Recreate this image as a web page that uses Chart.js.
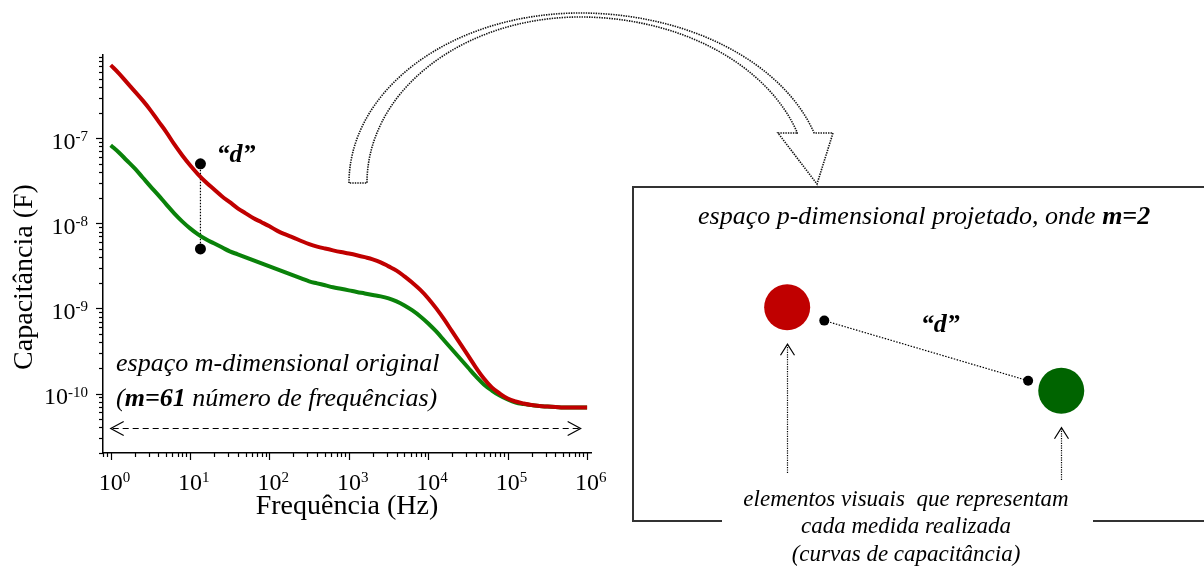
<!DOCTYPE html>
<html>
<head>
<meta charset="utf-8">
<script src="https://cdn.jsdelivr.net/npm/chart.js@4/dist/chart.umd.min.js"></script>
<style>
  html, body { margin: 0; padding: 0; background: #fff; }
  #wrap { position: relative; width: 1204px; height: 572px; overflow: hidden; background: #fff; }
  #wrap canvas { position: absolute; left: 0; top: 0; }
</style>
</head>
<body>
<div id="wrap">
  <canvas id="curves" width="1204" height="572"></canvas>
  <canvas id="projection" width="1204" height="572"></canvas>
</div>
<script>
// 61 measured frequencies (Hz), ten per decade
const frequencies = [
  1, 1.259, 1.585, 1.995, 2.512, 3.162, 3.981, 5.012, 6.310, 7.943,
  10, 12.59, 15.85, 19.95, 25.12, 31.62, 39.81, 50.12, 63.10, 79.43,
  100, 125.9, 158.5, 199.5, 251.2, 316.2, 398.1, 501.2, 631.0, 794.3,
  1000, 1259, 1585, 1995, 2512, 3162, 3981, 5012, 6310, 7943,
  10000, 12590, 15850, 19950, 25120, 31620, 39810, 50120, 63100, 79430,
  100000, 125900, 158500, 199500, 251200, 316200, 398100, 501200, 631000, 794300,
  1000000];

// Capacitance of the first sample (F)
const capacitanceRed = [
  7.22e-7, 5.82e-7, 4.56e-7, 3.57e-7, 2.80e-7, 2.14e-7, 1.585e-7, 1.18e-7, 8.50e-8, 6.31e-8,
  4.81e-8, 3.77e-8, 3.04e-8, 2.51e-8, 2.08e-8, 1.77e-8, 1.50e-8, 1.31e-8, 1.145e-8, 1.03e-8,
  9.22e-9, 8.15e-9, 7.40e-9, 6.80e-9, 6.20e-9, 5.70e-9, 5.33e-9, 5.05e-9, 4.81e-9, 4.60e-9,
  4.42e-9, 4.22e-9, 4.00e-9, 3.77e-9, 3.48e-9, 3.12e-9, 2.78e-9, 2.38e-9, 2.00e-9, 1.65e-9,
  1.31e-9, 1.0e-9, 7.42e-10, 5.36e-10, 3.88e-10, 2.80e-10, 2.02e-10, 1.50e-10, 1.18e-10, 1.0e-10,
  8.73e-11, 8.05e-11, 7.63e-11, 7.32e-11, 7.13e-11, 7.03e-11, 6.94e-11, 6.84e-11, 6.84e-11, 6.84e-11,
  6.84e-11];

// Capacitance of the second sample (F)
const capacitanceGreen = [
  8.27e-8, 6.84e-8, 5.51e-8, 4.44e-8, 3.48e-8, 2.72e-8, 2.14e-8, 1.67e-8, 1.31e-8, 1.055e-8,
  8.73e-9, 7.42e-9, 6.48e-9, 5.82e-9, 5.22e-9, 4.68e-9, 4.32e-9, 3.98e-9, 3.67e-9, 3.38e-9,
  3.12e-9, 2.88e-9, 2.65e-9, 2.44e-9, 2.25e-9, 2.08e-9, 1.97e-9, 1.87e-9, 1.77e-9, 1.70e-9,
  1.63e-9, 1.56e-9, 1.50e-9, 1.44e-9, 1.385e-9, 1.31e-9, 1.21e-9, 1.085e-9, 9.47e-10, 8.05e-10,
  6.66e-10, 5.36e-10, 4.20e-10, 3.29e-10, 2.58e-10, 2.02e-10, 1.585e-10, 1.28e-10, 1.085e-10, 9.47e-11,
  8.50e-11, 7.83e-11, 7.52e-11, 7.32e-11, 7.13e-11, 7.03e-11, 6.94e-11, 6.84e-11, 6.84e-11, 6.84e-11,
  6.84e-11];

// Distance "d" marked between the two curves at one frequency
const distanceFrequency = 13.5;
const distanceCapacitance = [5e-8, 5e-9];

// Span arrow covering the measured frequency range
const spanFrequency = [1, 830000];
const spanCapacitance = 3.9e-11;

// Axis tick exponents
const frequencyExponents = [0, 1, 2, 3, 4, 5, 6];
const capacitanceExponents = [-10, -9, -8, -7];

// Projected 2-D space
const projectedX = [2.7, 7.5];
const projectedY = [6.4, 3.9];
const projectedColors = ['#c00000', '#006400'];
const distanceX = [3.35, 6.92];
const distanceY = [6.0, 4.2];

const SERIF = '"Liberation Serif", "Times New Roman", serif';
const RED = '#c00000';
const GREEN = '#0a820a';

// Draws consecutive text runs with their own fonts, starting at x
function drawRuns(ctx, runs, x, y) {
  ctx.textAlign = 'left';
  let cx = x;
  for (const r of runs) {
    ctx.font = r.font;
    ctx.fillText(r.text, cx, y);
    cx += ctx.measureText(r.text).width;
  }
  return cx - x;
}

const BASE_FONT = '24px ' + SERIF;
const SUP_FONT = '15px ' + SERIF;
const ITALIC = 'italic 26px ' + SERIF;
const BOLD_ITALIC = 'italic bold 26px ' + SERIF;

const axisDecor = {
  id: 'axisDecor',
  afterDraw(chart) {
    const { ctx, chartArea: a, scales: { x, y } } = chart;
    ctx.save();
    ctx.fillStyle = '#000';
    ctx.strokeStyle = '#000';
    ctx.lineWidth = 1.2;
    ctx.setLineDash([]);

    // tick marks on the logarithmic axes (major at powers of ten)
    for (let n = -1; n <= 6; n++) {
      for (let k = 1; k <= 9; k++) {
        const v = k * Math.pow(10, n);
        if (v < x.min || v > x.max) continue;
        const px = Math.round(x.getPixelForValue(v)) + 0.5;
        const len = k === 1 ? 7 : 4;
        ctx.beginPath(); ctx.moveTo(px, a.bottom); ctx.lineTo(px, a.bottom + len); ctx.stroke();
      }
    }
    for (let n = -11; n <= -6; n++) {
      for (let k = 1; k <= 9; k++) {
        const v = k * Math.pow(10, n);
        if (v < y.min || v > y.max) continue;
        const py = Math.round(y.getPixelForValue(v)) + 0.5;
        const len = k === 1 ? 7 : 4;
        ctx.beginPath(); ctx.moveTo(a.left, py); ctx.lineTo(a.left - len, py); ctx.stroke();
      }
    }

    // tick labels 10^n
    ctx.textBaseline = 'alphabetic';
    for (const e of frequencyExponents) {
      const px = x.getPixelForValue(Math.pow(10, e));
      ctx.font = BASE_FONT; ctx.textAlign = 'center';
      const bw = ctx.measureText('10').width;
      ctx.fillText('10', px, a.bottom + 37);
      ctx.font = SUP_FONT; ctx.textAlign = 'left';
      ctx.fillText(String(e), px + bw / 2, a.bottom + 29);
    }
    for (const e of capacitanceExponents) {
      const py = y.getPixelForValue(Math.pow(10, e));
      ctx.font = BASE_FONT; const bw = ctx.measureText('10').width;
      ctx.font = SUP_FONT; const sw = ctx.measureText(String(e)).width;
      const x0 = a.left - 15 - bw - sw;
      ctx.textAlign = 'left';
      ctx.font = BASE_FONT; ctx.fillText('10', x0, py + 10.5);
      ctx.font = SUP_FONT; ctx.fillText(String(e), x0 + bw, py + 3);
    }

    // axis titles
    ctx.font = '28px ' + SERIF;
    ctx.textAlign = 'center';
    ctx.fillText('Frequência (Hz)', (a.left + a.right) / 2, 514);
    ctx.save();
    ctx.translate(32, 277);
    ctx.rotate(-Math.PI / 2);
    ctx.fillText('Capacitância (F)', 0, 0);
    ctx.restore();

    // "d" label beside the distance marker
    const dx = x.getPixelForValue(distanceFrequency);
    const dy = y.getPixelForValue(distanceCapacitance[0]);
    ctx.font = BOLD_ITALIC;
    ctx.textAlign = 'left';
    ctx.fillText('\u201Cd\u201D', dx + 16, dy - 2);

    // description of the original space
    drawRuns(ctx, [{ text: 'espaço m-dimensional original', font: ITALIC }], 116, 371);
    drawRuns(ctx, [{ text: '(', font: ITALIC }, { text: 'm=61', font: BOLD_ITALIC },
      { text: ' número de frequências)', font: ITALIC }], 116, 406);

    // double-headed dashed span arrow
    const sy = Math.round(y.getPixelForValue(spanCapacitance)) + 0.5;
    const sx0 = x.getPixelForValue(spanFrequency[0]);
    const sx1 = x.getPixelForValue(spanFrequency[1]);
    ctx.lineWidth = 1.2;
    ctx.setLineDash([6, 4]);
    ctx.beginPath(); ctx.moveTo(sx0 + 2, sy); ctx.lineTo(sx1 - 2, sy); ctx.stroke();
    ctx.setLineDash([]);
    ctx.beginPath();
    ctx.moveTo(sx0 + 13, sy - 7); ctx.lineTo(sx0, sy); ctx.lineTo(sx0 + 13, sy + 7);
    ctx.moveTo(sx1 - 13, sy - 7); ctx.lineTo(sx1, sy); ctx.lineTo(sx1 - 13, sy + 7);
    ctx.stroke();

    // hollow curved arrow leading to the projected space
    const cx = 580, cy = 183;
    ctx.beginPath();
    ctx.moveTo(349, cy);
    ctx.ellipse(cx, cy, 231, 170, 0, Math.PI, 1.5 * Math.PI, false);
    ctx.ellipse(cx, cy, 245, 170, 0, -0.5 * Math.PI, -0.2985, false);
    ctx.lineTo(833, 133);
    ctx.lineTo(817, 184);
    ctx.lineTo(778, 133);
    ctx.lineTo(798, 133);
    ctx.ellipse(cx, cy, 228, 166, 0, -0.3058, -0.5 * Math.PI, true);
    ctx.ellipse(cx, cy, 213, 166, 0, -0.5 * Math.PI, -Math.PI, true);
    ctx.closePath();
    ctx.strokeStyle = '#111';
    ctx.lineWidth = 1.6;
    ctx.setLineDash([1.4, 1.1]);
    ctx.stroke();
    ctx.restore();
  }
};

new Chart(document.getElementById('curves'), {
  type: 'line',
  data: {
    datasets: [
      {
        data: frequencies.map((f, i) => ({ x: f, y: capacitanceRed[i] })),
        borderColor: RED, borderWidth: 4, pointRadius: 0, tension: 0.4, order: 1
      },
      {
        data: frequencies.map((f, i) => ({ x: f, y: capacitanceGreen[i] })),
        borderColor: GREEN, borderWidth: 4, pointRadius: 0, tension: 0.4, order: 2
      },
      {
        data: distanceCapacitance.map(c => ({ x: distanceFrequency, y: c })),
        borderColor: '#000', borderWidth: 1.2, borderDash: [1.5, 1.5],
        pointRadius: 5.5, pointBackgroundColor: '#000', pointBorderWidth: 0, order: 3
      }
    ]
  },
  options: {
    responsive: false,
    animation: false,
    devicePixelRatio: 1,
    layout: { autoPadding: false, padding: { left: 0, right: 613, top: 55, bottom: 0 } },
    plugins: { legend: { display: false }, tooltip: { enabled: false } },
    scales: {
      x: {
        type: 'logarithmic', min: 0.8, max: 1.12e6,
        grid: { display: false },
        border: { display: true, color: '#000', width: 1.5 },
        ticks: { display: false },
        afterFit(s) { s.height = 119; s.paddingLeft = 0; s.paddingRight = 0; }
      },
      y: {
        type: 'logarithmic', min: 2e-11, max: 9.5e-7,
        grid: { display: false },
        border: { display: true, color: '#000', width: 1.5 },
        ticks: { display: false },
        afterFit(s) { s.width = 103; s.paddingTop = 0; s.paddingBottom = 0; }
      }
    }
  },
  plugins: [axisDecor]
});

const projectionDecor = {
  id: 'projectionDecor',
  afterDraw(chart) {
    const { ctx, chartArea: a, scales: { x, y } } = chart;
    ctx.save();
    // panel frame (bottom edge interrupted by the caption)
    ctx.strokeStyle = '#333';
    ctx.lineWidth = 2;
    ctx.beginPath();
    ctx.moveTo(722, a.bottom); ctx.lineTo(a.left, a.bottom); ctx.lineTo(a.left, a.top); ctx.lineTo(a.right + 2, a.top);
    ctx.moveTo(1093, a.bottom); ctx.lineTo(a.right + 2, a.bottom);
    ctx.stroke();

    ctx.fillStyle = '#000';
    ctx.textBaseline = 'alphabetic';
    drawRuns(ctx, [{ text: 'espaço p-dimensional projetado, onde ', font: ITALIC },
      { text: 'm=2', font: BOLD_ITALIC }], 698, a.top + 37);

    // "d" label near the middle of the distance segment
    const mx = (x.getPixelForValue(distanceX[0]) + x.getPixelForValue(distanceX[1])) / 2;
    const my = (y.getPixelForValue(distanceY[0]) + y.getPixelForValue(distanceY[1])) / 2;
    ctx.font = BOLD_ITALIC;
    ctx.textAlign = 'center';
    ctx.fillText('\u201Cd\u201D', mx + 14, my - 19);

    // dotted pointer arrows from the caption to each projected point
    const ends = [473, 480];
    projectedX.forEach((vx, i) => {
      const px = Math.round(x.getPixelForValue(vx)) + 0.5;
      const tip = y.getPixelForValue(projectedY[i]) + 37;
      ctx.strokeStyle = '#000';
      ctx.lineWidth = 1.2;
      ctx.setLineDash([1.2, 1.2]);
      ctx.beginPath(); ctx.moveTo(px, ends[i]); ctx.lineTo(px, tip + 1); ctx.stroke();
      ctx.setLineDash([]);
      ctx.beginPath(); ctx.moveTo(px - 7, tip + 11); ctx.lineTo(px, tip); ctx.lineTo(px + 7, tip + 11); ctx.stroke();
    });

    // caption
    ctx.font = 'italic 23px ' + SERIF;
    ctx.textAlign = 'center';
    ctx.fillText('elementos visuais  que representam', 906, 506);
    ctx.fillText('cada medida realizada', 906, 533);
    ctx.fillText('(curvas de capacitância)', 906, 561);
    ctx.restore();
  }
};

new Chart(document.getElementById('projection'), {
  type: 'scatter',
  data: {
    datasets: [
      {
        type: 'line',
        data: distanceX.map((vx, i) => ({ x: vx, y: distanceY[i] })),
        borderColor: '#000', borderWidth: 1.2, borderDash: [1.5, 1.5],
        pointRadius: 5, pointBackgroundColor: '#000', pointBorderWidth: 0
      },
      {
        data: projectedX.map((vx, i) => ({ x: vx, y: projectedY[i] })),
        pointRadius: 23, pointBackgroundColor: projectedColors, pointBorderWidth: 0
      }
    ]
  },
  options: {
    responsive: false,
    animation: false,
    devicePixelRatio: 1,
    layout: { autoPadding: false, padding: { left: 633, right: 0, top: 187, bottom: 51 } },
    plugins: { legend: { display: false }, tooltip: { enabled: false } },
    scales: {
      x: { type: 'linear', min: 0, max: 10, display: false },
      y: { type: 'linear', min: 0, max: 10, display: false }
    }
  },
  plugins: [projectionDecor]
});
</script>
</body>
</html>
